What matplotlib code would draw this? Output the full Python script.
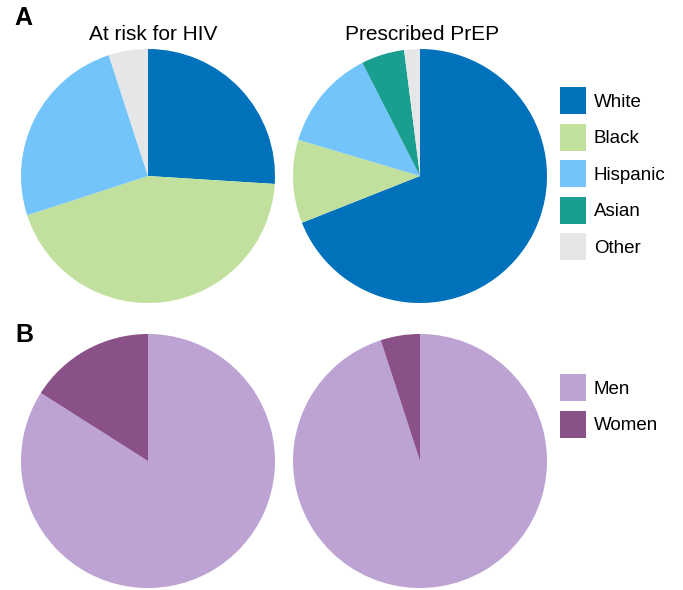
import matplotlib.pyplot as plt
from matplotlib.patches import Patch

plt.rcParams['font.family'] = ['Liberation Sans', 'DejaVu Sans']

race_labels = ['White', 'Black', 'Hispanic', 'Asian', 'Other']
race_colors = ['#0071bb', '#c1e09d', '#74c4fc', '#1a9e8f', '#e5e6e8']
at_risk_race = [26, 44, 25, 0, 5]
prep_race = [69, 10.6, 12.9, 5.5, 2]

sex_labels = ['Men', 'Women']
sex_colors = ['#bca3d3', '#8a5088']
at_risk_sex = [84, 16]
prep_sex = [95, 5]

W, H = 683, 590
fig = plt.figure(figsize=(W / 100, H / 100), dpi=100)


def add_pie(cx, cy, r, values, colors):
    ax = fig.add_axes([(cx - r) / W, (H - cy - r) / H, 2 * r / W, 2 * r / H])
    ax.pie(values, colors=colors, startangle=90, counterclock=False,
           radius=1.0, wedgeprops=dict(linewidth=0))
    ax.set_xlim(-1, 1)
    ax.set_ylim(-1, 1)
    ax.set_aspect('equal')
    ax.axis('off')
    return ax


ax1 = add_pie(148, 176, 127, at_risk_race, race_colors)
ax2 = add_pie(420, 176, 127, prep_race, race_colors)
ax3 = add_pie(148, 461, 127, at_risk_sex, sex_colors)
ax4 = add_pie(420, 461, 127, prep_sex, sex_colors)

fig.text(153 / W, 1 - 39.5 / H, 'At risk for HIV', ha='center', va='baseline', fontsize=15)
fig.text(422 / W, 1 - 39.5 / H, 'Prescribed PrEP', ha='center', va='baseline', fontsize=15)
fig.text(14 / W, 1 - 25 / H, 'A', ha='left', va='baseline', fontsize=18, fontweight='heavy')
fig.text(15 / W, 1 - 342 / H, 'B', ha='left', va='baseline', fontsize=18, fontweight='heavy')

race_handles = [Patch(facecolor=c, edgecolor='none', label=l) for c, l in zip(race_colors, race_labels)]
sex_handles = [Patch(facecolor=c, edgecolor='none', label=l) for c, l in zip(sex_colors, sex_labels)]

leg_kw = dict(loc='upper left', frameon=False, fontsize=13.5, handlelength=1.39,
              handleheight=1.85, handletextpad=0.42, labelspacing=0.5, borderpad=0,
              borderaxespad=0)
fig.legend(handles=race_handles, bbox_to_anchor=(560 / W, 1 - 87 / H), **leg_kw)
fig.legend(handles=sex_handles, bbox_to_anchor=(560 / W, 1 - 374 / H), **leg_kw)

fig.savefig('out.png', dpi=100)
